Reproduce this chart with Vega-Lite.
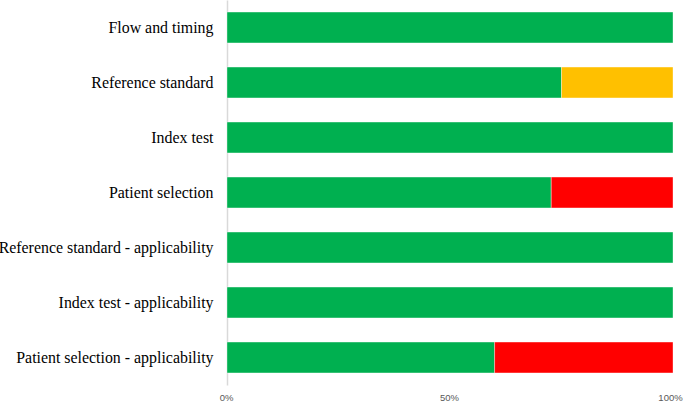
{
  "$schema": "https://vega.github.io/schema/vega-lite/v6.json",
  "width": 446,
  "height": 385,
  "autosize": {"type": "none"},
  "padding": {"left": 227, "top": 0, "right": 12, "bottom": 20},
  "background": "white",
  "config": {"view": {"stroke": null}},
  "data": {
    "values": [
      {"domain": "Flow and timing", "risk": "Low", "ord": 1, "share": 1.0},
      {"domain": "Reference standard", "risk": "Low", "ord": 1, "share": 0.75},
      {"domain": "Reference standard", "risk": "Unclear", "ord": 2, "share": 0.25},
      {"domain": "Index test", "risk": "Low", "ord": 1, "share": 1.0},
      {"domain": "Patient selection", "risk": "Low", "ord": 1, "share": 0.727},
      {"domain": "Patient selection", "risk": "High", "ord": 3, "share": 0.273},
      {"domain": "Reference standard - applicability", "risk": "Low", "ord": 1, "share": 1.0},
      {"domain": "Index test - applicability", "risk": "Low", "ord": 1, "share": 1.0},
      {"domain": "Patient selection - applicability", "risk": "Low", "ord": 1, "share": 0.6},
      {"domain": "Patient selection - applicability", "risk": "High", "ord": 3, "share": 0.4}
    ]
  },
  "mark": {"type": "bar", "stroke": "#ffffff", "strokeWidth": 0.6, "strokeOpacity": 0.6},
  "encoding": {
    "y": {
      "field": "domain",
      "type": "nominal",
      "sort": ["Flow and timing", "Reference standard", "Index test", "Patient selection", "Reference standard - applicability", "Index test - applicability", "Patient selection - applicability"],
      "scale": {"paddingInner": 0.44, "paddingOuter": 0.22},
      "axis": {
        "title": null,
        "ticks": false,
        "domain": true,
        "domainColor": "#d9d9d9",
        "domainWidth": 1.5,
        "labelFont": "Liberation Serif",
        "labelFontSize": 15.9,
        "labelColor": "#000000",
        "labelPadding": 14,
        "labelLimit": 300
      }
    },
    "x": {
      "field": "share",
      "type": "quantitative",
      "stack": "zero",
      "scale": {"domain": [0, 1], "nice": false},
      "axis": {
        "title": null,
        "values": [0, 0.5, 1],
        "format": ".0%",
        "grid": false,
        "ticks": false,
        "domain": false,
        "labelFont": "Liberation Sans",
        "labelFontSize": 9.5,
        "labelColor": "#595959",
        "labelPadding": 7,
        "labelOffset": {"expr": "datum.value == 1 ? -3 : -1"},
        "labelFlush": false
      }
    },
    "color": {
      "field": "risk",
      "type": "nominal",
      "scale": {"domain": ["Low", "Unclear", "High"], "range": ["#00B050", "#FFC000", "#FF0000"]},
      "legend": null
    },
    "order": {"field": "ord", "type": "quantitative"}
  }
}
